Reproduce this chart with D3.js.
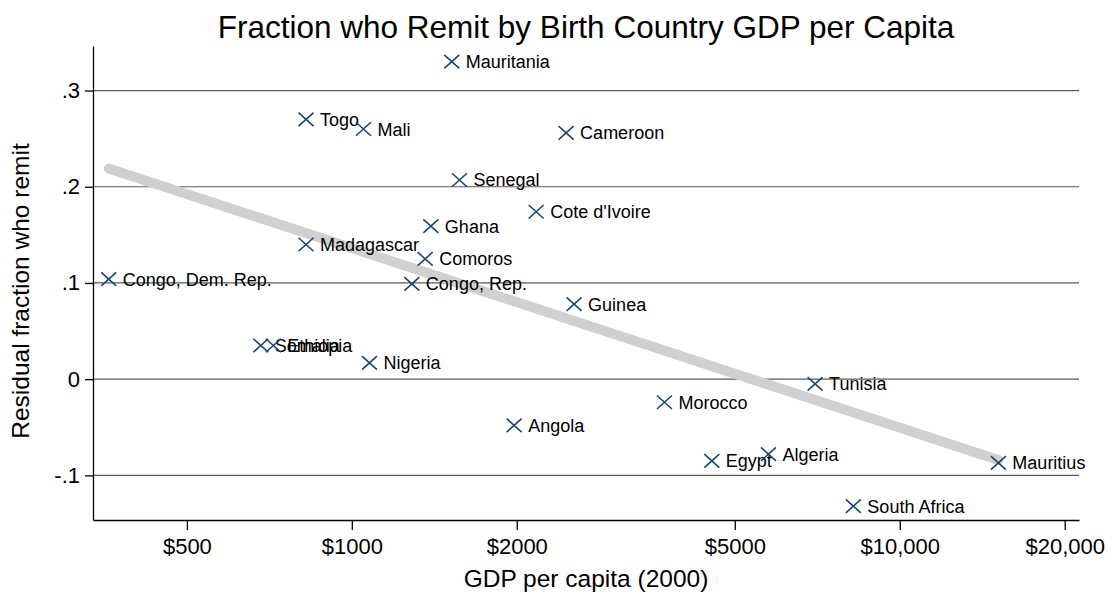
<!DOCTYPE html>
<html>
<head>
<meta charset="utf-8">
<script src="https://cdn.jsdelivr.net/npm/d3@7"></script>
<style>
  html, body { margin: 0; padding: 0; background: #fff; }
  svg { display: block; font-family: "Liberation Sans", Arial, sans-serif; }
</style>
</head>
<body>
<div id="chart"></div>
<script>
// country, GDP per capita (2000), residual fraction who remit
const countries = ['Mauritania', 'Togo', 'Mali', 'Cameroon', 'Senegal', "Cote d'Ivoire", 'Ghana',
  'Madagascar', 'Comoros', 'Congo, Dem. Rep.', 'Congo, Rep.', 'Guinea', 'Somalia', 'Ethiopia',
  'Nigeria', 'Tunisia', 'Morocco', 'Angola', 'Egypt', 'Algeria', 'Mauritius', 'South Africa'];
const gdp = [1522, 825, 1050, 2461, 1572, 2170, 1394,
  825, 1361, 360, 1287, 2545, 682, 719,
  1077, 7007, 3720, 1978, 4540, 5759, 15135, 8229];
const remit = [0.330, 0.270, 0.260, 0.256, 0.207, 0.174, 0.159,
  0.140, 0.125, 0.104, 0.099, 0.078, 0.035, 0.035,
  0.017, -0.005, -0.024, -0.048, -0.085, -0.078, -0.087, -0.132];

// fitted line end points
const fitGdp = [360, 15135];
const fitRemit = [0.219, -0.084];

const xTicks = [500, 1000, 2000, 5000, 10000, 20000];
const xTickLabels = ['$500', '$1000', '$2000', '$5000', '$10,000', '$20,000'];
const yTicks = [0.3, 0.2, 0.1, 0, -0.1];
const yTickLabels = ['.3', '.2', '.1', '0', '-.1'];

const W = 1112, H = 596;
const margin = { top: 46, right: 33, bottom: 76, left: 93 };
const width = W - margin.left - margin.right;
const height = H - margin.top - margin.bottom;

const svg = d3.select('#chart').append('svg')
  .attr('width', W)
  .attr('height', H);

const g = svg.append('g')
  .attr('transform', `translate(${margin.left},${margin.top})`);

const x = d3.scaleLog()
  .domain([337, 21240])
  .range([0, width]);

const y = d3.scaleLinear()
  .domain([-0.1464, 0.3463])
  .range([height, 0]);

// gridlines
g.selectAll('.grid')
  .data(yTicks)
  .enter()
  .append('line')
  .attr('x1', 0)
  .attr('x2', width)
  .attr('y1', d => y(d))
  .attr('y2', d => y(d))
  .attr('stroke', '#5a5a5a')
  .attr('stroke-width', 1.2);

// fitted line
const fit = fitGdp.map((v, i) => [v, fitRemit[i]]);
g.append('path')
  .datum(fit)
  .attr('fill', 'none')
  .attr('stroke', '#d0d0d0')
  .attr('stroke-width', 10)
  .attr('stroke-linecap', 'round')
  .attr('d', d3.line().x(d => x(d[0])).y(d => y(d[1])));

// axes
const xAxis = g.append('g')
  .attr('transform', `translate(0,${height})`)
  .call(d3.axisBottom(x).tickValues(xTicks).tickFormat((d, i) => xTickLabels[i])
    .tickSizeInner(10).tickSizeOuter(0).tickPadding(8));
xAxis.select('.domain').attr('stroke', '#000').attr('stroke-width', 1.3);
xAxis.selectAll('.tick line').attr('stroke', '#000').attr('stroke-width', 1.3);
xAxis.selectAll('text').style('font-size', '22px').style('fill', '#000')
  .style('font-family', '"Liberation Sans", Arial, sans-serif');

const yAxis = g.append('g')
  .call(d3.axisLeft(y).tickValues(yTicks).tickFormat((d, i) => yTickLabels[i])
    .tickSizeInner(8).tickSizeOuter(0).tickPadding(5));
yAxis.select('.domain').attr('stroke', '#000').attr('stroke-width', 1.3);
yAxis.selectAll('.tick line').attr('stroke', '#000').attr('stroke-width', 1.3);
yAxis.selectAll('text').style('font-size', '22px').style('fill', '#000')
  .style('font-family', '"Liberation Sans", Arial, sans-serif');

// markers
const s = 7.5;
const pts = g.selectAll('.pt')
  .data(countries)
  .enter()
  .append('g')
  .attr('transform', (d, i) => `translate(${x(gdp[i])},${y(remit[i])})`);

pts.append('path')
  .attr('d', `M${-s},${-s * 0.9}L${s},${s * 0.9}M${-s},${s * 0.9}L${s},${-s * 0.9}`)
  .attr('stroke', '#1a476f')
  .attr('stroke-width', 1.6)
  .attr('fill', 'none');

pts.append('text')
  .attr('x', 14)
  .attr('dy', '0.36em')
  .text(d => d)
  .style('font-size', '18px')
  .style('fill', '#000');

// titles
svg.append('text')
  .attr('x', 586)
  .attr('y', 38)
  .attr('text-anchor', 'middle')
  .style('font-size', '31.5px')
  .text('Fraction who Remit by Birth Country GDP per Capita');

svg.append('text')
  .attr('x', margin.left + width / 2)
  .attr('y', 587)
  .attr('text-anchor', 'middle')
  .style('font-size', '24.5px')
  .text('GDP per capita (2000)');

svg.append('text')
  .attr('transform', `translate(29,${margin.top + height / 2 + 8}) rotate(-90)`)
  .attr('text-anchor', 'middle')
  .style('font-size', '24.5px')
  .text('Residual fraction who remit');
</script>
</body>
</html>
